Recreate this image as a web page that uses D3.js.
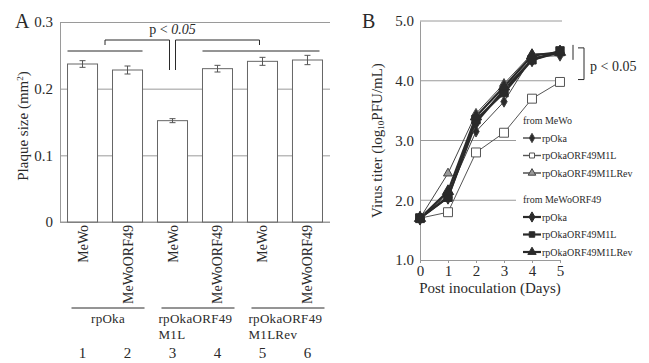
<!DOCTYPE html>
<html>
<head>
<meta charset="utf-8">
<script src="https://cdn.jsdelivr.net/npm/d3@7"></script>
<style>
  body { margin: 0; background: #fff; }
  svg { font-family: 'Liberation Serif', 'Times New Roman', serif; }
</style>
</head>
<body>
<div id="chart"></div>
<script>
// panel A: plaque size
const cellLines = ['MeWo', 'MeWoORF49', 'MeWo', 'MeWoORF49', 'MeWo', 'MeWoORF49'];
const plaqueSize = [0.237, 0.228, 0.152, 0.230, 0.241, 0.243];
const plaqueErr = [0.005, 0.006, 0.003, 0.005, 0.006, 0.007];
const virusGroups = [['rpOka'], ['rpOkaORF49', 'M1L'], ['rpOkaORF49', 'M1LRev']];
const laneNumbers = ['1', '2', '3', '4', '5', '6'];
const plaqueTicks = [0, 0.1, 0.2, 0.3];

// panel B: growth curves
const days = [0, 1, 2, 3, 4, 5];
const titerTicks = [1, 2, 3, 4, 5];
const meWoRpOka = [1.7, 2.1, 3.15, 3.65, 4.4, 4.42];
const meWoM1L = [1.7, 1.8, 2.8, 3.13, 3.7, 3.98];
const meWoM1LRev = [1.7, 2.45, 3.45, 3.95, 4.45, 4.46];
const orf49RpOka = [1.7, 2.05, 3.3, 3.85, 4.35, 4.48];
const orf49M1L = [1.7, 2.05, 3.35, 3.8, 4.35, 4.5];
const orf49M1LRev = [1.7, 2.15, 3.4, 3.9, 4.42, 4.48];

const svg = d3.select('#chart').append('svg')
  .attr('width', 649)
  .attr('height', 363);

const ink = '#2a2a2a';
const grid = '#9a9a9a';

// ---------- panel A ----------
const x = d3.scaleBand()
  .domain(d3.range(plaqueSize.length))
  .range([60, 330])
  .paddingInner(0.333)
  .paddingOuter(0.167);
const y = d3.scaleLinear()
  .domain([0, 0.3])
  .range([222, 22]);

const gA = svg.append('g');

gA.append('g')
  .attr('transform', 'translate(60,0)')
  .call(d3.axisLeft(y).tickValues(plaqueTicks).tickSize(-270)
    .tickFormat(d => d === 0 ? '0' : d3.format('.1f')(d)))
  .call(g => g.select('.domain').attr('stroke', grid))
  .call(g => g.selectAll('.tick line').attr('stroke', grid))
  .call(g => g.selectAll('.tick text').attr('x', -7).attr('fill', ink)
    .style('font-size', '15px').style('font-family', 'Liberation Serif'));

gA.append('line')
  .attr('x1', 60).attr('x2', 330)
  .attr('y1', y(0)).attr('y2', y(0))
  .attr('stroke', grid);

gA.selectAll('.bar')
  .data(plaqueSize)
  .enter().append('rect')
  .attr('class', 'bar')
  .attr('x', (d, i) => x(i))
  .attr('width', x.bandwidth())
  .attr('y', d => y(d))
  .attr('height', d => y(0) - y(d))
  .attr('fill', '#fff')
  .attr('stroke', '#666');

const err = gA.selectAll('.err')
  .data(plaqueSize)
  .enter().append('g')
  .attr('class', 'err')
  .attr('stroke', '#555');
err.append('line')
  .attr('x1', (d, i) => x(i) + x.bandwidth() / 2)
  .attr('x2', (d, i) => x(i) + x.bandwidth() / 2)
  .attr('y1', (d, i) => y(d - plaqueErr[i]))
  .attr('y2', (d, i) => y(d + plaqueErr[i]));
[-1, 1].forEach(s => {
  err.append('line')
    .attr('x1', (d, i) => x(i) + x.bandwidth() / 2 - 3)
    .attr('x2', (d, i) => x(i) + x.bandwidth() / 2 + 3)
    .attr('y1', (d, i) => y(d + s * plaqueErr[i]))
    .attr('y2', (d, i) => y(d + s * plaqueErr[i]));
});

// significance brackets
const mid = i => x(i) + x.bandwidth() / 2;
const yTop = y(0.3) + 18;
const yLine = y(0.3) + 29;
gA.append('path')
  .attr('d', `M${x(0)},${yLine}H${x(1) + x.bandwidth()}M${x(3)},${yLine}H${x(5) + x.bandwidth() - 3}`)
  .attr('stroke', ink).attr('fill', 'none');
gA.append('path')
  .attr('d', `M${(x(0) + x(1) + x.bandwidth()) / 2},${yTop + 5}V${yTop}H${mid(2) - 3}V${yTop + 30}` +
    `M${mid(2) + 3},${yTop + 30}V${yTop}H${(x(3) + x(5) + x.bandwidth()) / 2 - 3}V${yTop + 5}`)
  .attr('stroke', ink).attr('fill', 'none');
gA.append('text')
  .attr('x', mid(2)).attr('y', yTop - 6)
  .attr('text-anchor', 'middle')
  .attr('fill', ink)
  .style('font-size', '14px')
  .html('p &lt; <tspan font-style="italic">0.05</tspan>');

// rotated cell line labels
gA.selectAll('.cell')
  .data(cellLines)
  .enter().append('text')
  .attr('class', 'cell')
  .attr('transform', (d, i) => `translate(${mid(i) + 5},${y(0) + 3}) rotate(-90)`)
  .attr('text-anchor', 'end')
  .attr('fill', ink)
  .style('font-size', '14px')
  .text(d => d);

// virus group labels
virusGroups.forEach((lines, k) => {
  const x0 = x(2 * k) + 4;
  const x1 = x(2 * k + 1) + x.bandwidth() + 2;
  gA.append('line')
    .attr('x1', x0).attr('x2', x1)
    .attr('y1', 308).attr('y2', 308)
    .attr('stroke', ink);
  gA.append('text')
    .attr('x', k === 0 ? (x0 + x1) / 2 : x0 - 3)
    .attr('y', 323)
    .attr('text-anchor', k === 0 ? 'middle' : 'start')
    .attr('fill', ink)
    .style('font-size', '13px')
    .style('letter-spacing', '0.3px')
    .selectAll('tspan')
    .data(lines)
    .enter().append('tspan')
    .attr('x', k === 0 ? (x0 + x1) / 2 : x0 - 3)
    .attr('dy', (d, j) => j ? 16 : 0)
    .text(d => d);
});

gA.selectAll('.lane')
  .data(laneNumbers)
  .enter().append('text')
  .attr('class', 'lane')
  .attr('x', (d, i) => mid(i))
  .attr('y', 358)
  .attr('text-anchor', 'middle')
  .attr('fill', ink)
  .style('font-size', '15px')
  .text(d => d);

gA.append('text')
  .attr('x', 15).attr('y', 28)
  .attr('fill', ink)
  .style('font-size', '20px')
  .text('A');

gA.append('text')
  .attr('transform', `translate(28,${(y(0) + y(0.3)) / 2 + 4}) rotate(-90)`)
  .attr('text-anchor', 'middle')
  .attr('fill', ink)
  .style('font-size', '15px')
  .html('Plaque size (mm<tspan dy="-5" font-size="9">2</tspan><tspan dy="5">)</tspan>');

// ---------- panel B ----------
const xb = d3.scaleLinear().domain([0, 5]).range([420, 560]);
const yb = d3.scaleLinear().domain([1, 5]).range([260, 21]);

const gB = svg.append('g');

gB.selectAll('.grid')
  .data(titerTicks.slice(1))
  .enter().append('line')
  .attr('x1', xb(0))
  .attr('x2', d => d >= 4 ? xb(5) + 2 : 516)
  .attr('y1', d => yb(d)).attr('y2', d => yb(d))
  .attr('stroke', grid);

gB.append('g')
  .attr('transform', `translate(${xb(0)},0)`)
  .call(d3.axisLeft(yb).tickValues(titerTicks).tickSize(0).tickFormat(d3.format('.1f')))
  .call(g => g.select('.domain').attr('stroke', grid))
  .call(g => g.selectAll('.tick text').attr('x', -6).attr('fill', ink)
    .style('font-size', '15px').style('font-family', 'Liberation Serif'));

gB.append('g')
  .attr('transform', `translate(0,${yb(1)})`)
  .call(d3.axisBottom(xb).tickValues(days).tickSize(3).tickFormat(d3.format('d')))
  .call(g => g.select('.domain').attr('stroke', grid))
  .call(g => g.selectAll('.tick line').attr('stroke', grid))
  .call(g => g.selectAll('.tick text').attr('y', 5).attr('fill', ink)
    .style('font-size', '15px').style('font-family', 'Liberation Serif'));

gB.append('text')
  .attr('x', (xb(0) + xb(5)) / 2).attr('y', 293)
  .attr('text-anchor', 'middle')
  .attr('fill', ink)
  .style('font-size', '15px')
  .text('Post inoculation (Days)');

gB.append('text')
  .attr('transform', `translate(382,${(yb(1) + yb(5)) / 2}) rotate(-90)`)
  .attr('text-anchor', 'middle')
  .attr('fill', ink)
  .style('font-size', '15px')
  .html('Virus titer (log<tspan font-size="9" dy="2">10</tspan><tspan dy="-2">PFU/mL)</tspan>');

gB.append('text')
  .attr('x', 362).attr('y', 28)
  .attr('fill', ink)
  .style('font-size', '20px')
  .text('B');

const series = [
  { name: 'rpOka', values: meWoRpOka, symbol: d3.symbolDiamond, bold: false, fill: ink, stroke: '#444' },
  { name: 'rpOkaORF49M1L', values: meWoM1L, symbol: d3.symbolSquare, bold: false, fill: '#fff', stroke: '#555' },
  { name: 'rpOkaORF49M1LRev', values: meWoM1LRev, symbol: d3.symbolTriangle, bold: false, fill: '#999', stroke: '#444' },
  { name: 'rpOka', values: orf49RpOka, symbol: d3.symbolDiamond, bold: true, fill: ink, stroke: ink },
  { name: 'rpOkaORF49M1L', values: orf49M1L, symbol: d3.symbolSquare, bold: true, fill: ink, stroke: ink },
  { name: 'rpOkaORF49M1LRev', values: orf49M1LRev, symbol: d3.symbolTriangle, bold: true, fill: ink, stroke: ink }
];

const line = d3.line()
  .x((d, i) => xb(days[i]))
  .y(d => yb(d));

series.forEach(s => {
  gB.append('path')
    .attr('d', line(s.values))
    .attr('fill', 'none')
    .attr('stroke', s.stroke)
    .attr('stroke-width', s.bold ? 2.2 : 1);
});
series.forEach(s => {
  const size = s.symbol === d3.symbolSquare ? (s.bold ? 70 : 80) : (s.bold ? 55 : 35);
  gB.selectAll(null)
    .data(s.values)
    .enter().append('path')
    .attr('transform', (d, i) => `translate(${xb(days[i])},${yb(d)})`)
    .attr('d', d3.symbol(s.symbol, size))
    .attr('fill', s.fill)
    .attr('stroke', s.stroke)
    .attr('stroke-width', 1);
});

// legend
const legend = gB.append('g').attr('fill', ink).style('font-size', '10px');
const legendRows = [
  { title: 'from MeWo', y: 124, items: series.slice(0, 3) },
  { title: 'from MeWoORF49', y: 203, items: series.slice(3) }
];
legendRows.forEach(row => {
  legend.append('text').attr('x', 523).attr('y', row.y).text(row.title);
  row.items.forEach((s, j) => {
    const ly = row.y + 14 + j * 17.5;
    legend.append('line')
      .attr('x1', 523).attr('x2', 541)
      .attr('y1', ly).attr('y2', ly)
      .attr('stroke', s.stroke)
      .attr('stroke-width', s.bold ? 2.2 : 1.4);
    legend.append('path')
      .attr('transform', `translate(532,${ly})`)
      .attr('d', d3.symbol(s.symbol, s.bold ? 30 : 25))
      .attr('fill', s.fill)
      .attr('stroke', s.stroke);
    legend.append('text').attr('x', 542).attr('y', ly + 3.5).text(s.name);
  });
});

// p value bracket
gB.append('line')
  .attr('x1', 573).attr('x2', 573)
  .attr('y1', yb(4.6)).attr('y2', yb(4.35))
  .attr('stroke', ink);
gB.append('path')
  .attr('d', `M578,${yb(4.55)}H584V${yb(4.02)}H578`)
  .attr('stroke', ink).attr('fill', 'none');
gB.append('text')
  .attr('x', 590).attr('y', 71)
  .attr('fill', ink)
  .style('font-size', '14px')
  .text('p < 0.05');
</script>
</body>
</html>
